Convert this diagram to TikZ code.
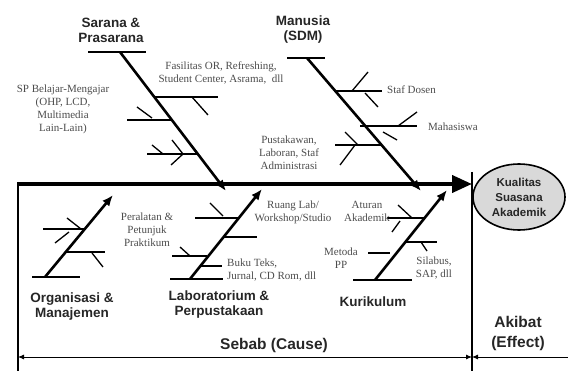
\documentclass[tikz,border=0pt]{standalone}
\usepackage{fontspec}
\setmainfont{Liberation Serif}
\setsansfont{Liberation Sans}
\usetikzlibrary{arrows.meta,shapes.geometric}
\begin{document}
\begin{tikzpicture}[x=1pt,y=-1pt,
  spine/.style={line width=4pt,-{Triangle[length=20pt,width=17pt]}},
  bone/.style={line width=2.6pt,-{Latex[length=11pt,width=9pt]}},
  bar/.style={line width=2.4pt},
  tick/.style={line width=1.3pt},
  frame/.style={line width=1.1pt},
  dim/.style={line width=0.9pt},
  title/.style={font=\sffamily\bfseries\fontsize{13.5}{15}\selectfont, align=center, inner sep=0pt, text=black!85},
  big/.style={font=\sffamily\bfseries\fontsize{15.5}{20}\selectfont, align=center, inner sep=0pt, text=black!85},
  lab/.style={font=\fontsize{11}{13}\selectfont, align=center, inner sep=0pt, text=black!70},
]
\useasboundingbox (0,0) rectangle (568,371);

% frame and spine
\coordinate (sL) at (18,184);
\coordinate (sR) at (472,184);
\draw[frame] (18,182) -- (18,371);
\draw[frame] (472,172) -- (472,371);
\draw[spine] (sL) -- (sR);

% effect
\node[ellipse, draw, line width=1.6pt, fill=black!15, minimum width=92pt, minimum height=66pt,
      font=\sffamily\bfseries\fontsize{11.5}{15}\selectfont, align=center, inner sep=0pt, text=black!85]
  (eff) at (519,197) {Kualitas\\Suasana\\Akademik};

% bottom dimension arrows
\coordinate (dL) at (18,357);
\coordinate (dM) at (472,357);
\coordinate (dR) at (568,357);
\draw[dim,{Latex[length=6pt,width=5pt]}-{Latex[length=6pt,width=5pt]}] (dL) -- (dM);
\draw[dim,-{Latex[length=6pt,width=5pt]}] (dR) -- (dM);
\node[big] (cause) at (274,345) {Sebab (Cause)};
\node[big] (effect) at (518,333) {Akibat\\(Effect)};

% ---- Sarana & Prasarana
\node[title] (tS) at (111,30) {Sarana \&\\Prasarana};
\coordinate (s1) at (120,52);
\coordinate (s2) at (226,191);
\draw[bar] (88,52) -- (146,52);
\draw[bone] (s1) -- (s2);
\draw[bar] (154,97) -- (218,97);
\draw[tick] (192,97) -- (208,115);
\draw[bar] (127,120) -- (171,120);
\draw[tick] (137,107) -- (152,118);
\draw[bar] (147,154) -- (198,154);
\draw[tick] (152,145) -- (163,154);
\draw[tick] (172,140) -- (183,154) -- (171,165);
\node[lab] (tFas) at (221,73) {Fasilitas OR, Refreshing,\\Student Center, Asrama,~ dll};
\node[lab] (tSP) at (63,109) {SP Belajar-Mengajar\\(OHP, LCD,\\Multimedia\\Lain-Lain)};

% ---- Manusia (SDM)
\node[title] (tM) at (303,30) {Manusia\\(SDM)};
\coordinate (m1) at (307,58);
\coordinate (m2) at (421,191);
\draw[bar] (287,58) -- (325,58);
\draw[bone] (m1) -- (m2);
\draw[bar] (335,91) -- (382,91);
\draw[tick] (352,91) -- (368,72);
\draw[tick] (365,93) -- (378,107);
\draw[bar] (360,126) -- (417,126);
\draw[tick] (398,126) -- (417,112);
\draw[tick] (383,132) -- (397,140);
\draw[bar] (335,145) -- (381,145);
\draw[tick] (345,132) -- (358,145);
\draw[tick] (340,165) -- (355,145);
\node[lab, anchor=west] (tSD) at (387,90) {Staf Dosen};
\node[lab, anchor=west] (tMh) at (428,127) {Mahasiswa};
\node[lab] (tPu) at (289,153) {Pustakawan,\\Laboran, Staf\\Administrasi};

% ---- Organisasi & Manajemen
\coordinate (o1) at (45,277);
\coordinate (o2) at (113,195);
\draw[bar] (32,277) -- (80,277);
\draw[bone] (o1) -- (o2);
\draw[bar] (43,229) -- (85,229);
\draw[tick] (67,218) -- (81,229);
\draw[tick] (55,243) -- (69,232);
\draw[bar] (66,252) -- (105,252);
\draw[tick] (92,253) -- (103,267);
\node[title] (tO) at (72,307) {Organisasi \&\\Manajemen};

% ---- Laboratorium & Perpustakaan
\coordinate (l1) at (190,279);
\coordinate (l2) at (262,189);
\draw[bar] (170,279) -- (223,279);
\draw[bone] (l1) -- (l2);
\draw[bar] (195,218) -- (239,218);
\draw[tick] (210,203) -- (223,216);
\draw[bar] (224,237) -- (257,237);
\draw[bar] (172,256) -- (207,256);
\draw[tick] (180,247) -- (190,256);
\draw[bar] (200,266) -- (222,266);
\node[lab] (tPe) at (147,230) {Peralatan \&\\Petunjuk\\Praktikum};
\node[lab] (tRu) at (293,212) {Ruang Lab/\\Workshop/Studio};
\node[lab, align=left, anchor=west] (tBu) at (227,270) {Buku Teks,\\Jurnal, CD Rom, dll};
\node[title] (tL) at (219,305) {Laboratorium \&\\Perpustakaan};

% ---- Kurikulum
\coordinate (k1) at (375,280);
\coordinate (k2) at (447,190);
\draw[bar] (353,280) -- (412,280);
\draw[bone] (k1) -- (k2);
\draw[bar] (387,218) -- (425,218);
\draw[tick] (398,205) -- (412,218);
\draw[tick] (392,232) -- (400,221);
\draw[bar] (405,242) -- (437,242);
\draw[tick] (421,242) -- (427,251);
\draw[bar] (368,253) -- (390,253);
\node[lab] (tAt) at (367,211) {Aturan\\Akademik};
\node[lab] (tMe) at (341,258) {Metoda\\PP};
\node[lab] (tSi) at (434,268) {Silabus,\\SAP, dll};
\node[title] (tK) at (373,302) {Kurikulum};
\end{tikzpicture}
\end{document}
